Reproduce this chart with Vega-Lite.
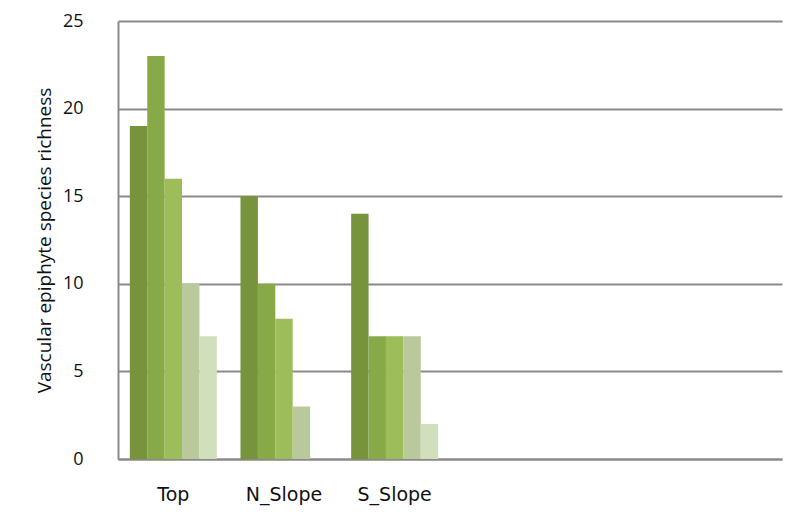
{
  "$schema": "https://vega.github.io/schema/vega-lite/v6.json",
  "width": 664,
  "height": 438,
  "autosize": {"type": "none"},
  "padding": {"left": 118, "top": 21, "right": 6, "bottom": 55},
  "background": "white",
  "config": {
    "view": {"stroke": null},
    "font": "Open Sans"
  },
  "data": {
    "values": [
      {"site": "Top", "series": "1", "richness": 19},
      {"site": "Top", "series": "2", "richness": 23},
      {"site": "Top", "series": "3", "richness": 16},
      {"site": "Top", "series": "4", "richness": 10},
      {"site": "Top", "series": "5", "richness": 7},
      {"site": "N_Slope", "series": "1", "richness": 15},
      {"site": "N_Slope", "series": "2", "richness": 10},
      {"site": "N_Slope", "series": "3", "richness": 8},
      {"site": "N_Slope", "series": "4", "richness": 3},
      {"site": "N_Slope", "series": "5", "richness": 0},
      {"site": "S_Slope", "series": "1", "richness": 14},
      {"site": "S_Slope", "series": "2", "richness": 7},
      {"site": "S_Slope", "series": "3", "richness": 7},
      {"site": "S_Slope", "series": "4", "richness": 7},
      {"site": "S_Slope", "series": "5", "richness": 2}
    ]
  },
  "mark": {"type": "bar"},
  "encoding": {
    "x": {
      "field": "site",
      "type": "nominal",
      "sort": null,
      "scale": {"domain": ["Top", "N_Slope", "S_Slope", "e4", "e5", "e6"], "paddingInner": 0, "paddingOuter": 0},
      "axis": {
        "title": null,
        "labelAngle": 0,
        "labelExpr": "indexof(['Top','N_Slope','S_Slope'], datum.value) >= 0 ? datum.value : ''",
        "labelFont": "DejaVu Sans",
        "labelFontSize": 19,
        "labelColor": "#111111",
        "labelPadding": 26,
        "ticks": false,
        "domainColor": "#8a8a8a",
        "domainWidth": 2,
        "grid": false
      }
    },
    "xOffset": {
      "field": "series",
      "type": "nominal",
      "scale": {"paddingInner": 0, "paddingOuter": 0.68}
    },
    "y": {
      "field": "richness",
      "type": "quantitative",
      "scale": {"domain": [0, 25], "nice": false},
      "axis": {
        "title": "Vascular epiphyte species richness",
        "titleFontSize": 19,
        "titleFontWeight": "normal",
        "titleColor": "#111111",
        "titleX": -74,
        "titleY": 219,
        "titleAngle": -90,
        "titleAlign": "center",
        "titleBaseline": "middle",
        "values": [0, 5, 10, 15, 20, 25],
        "labelFontSize": 18,
        "labelColor": "#111111",
        "labelPadding": 35,
        "ticks": false,
        "domainColor": "#8a8a8a",
        "domainWidth": 2,
        "gridColor": "#8a8a8a",
        "gridWidth": 2
      }
    },
    "color": {
      "field": "series",
      "type": "nominal",
      "scale": {"domain": ["1", "2", "3", "4", "5"], "range": ["#77933c", "#88a948", "#9dbd5a", "#b9c99b", "#d2dfbc"]},
      "legend": null
    }
  }
}
